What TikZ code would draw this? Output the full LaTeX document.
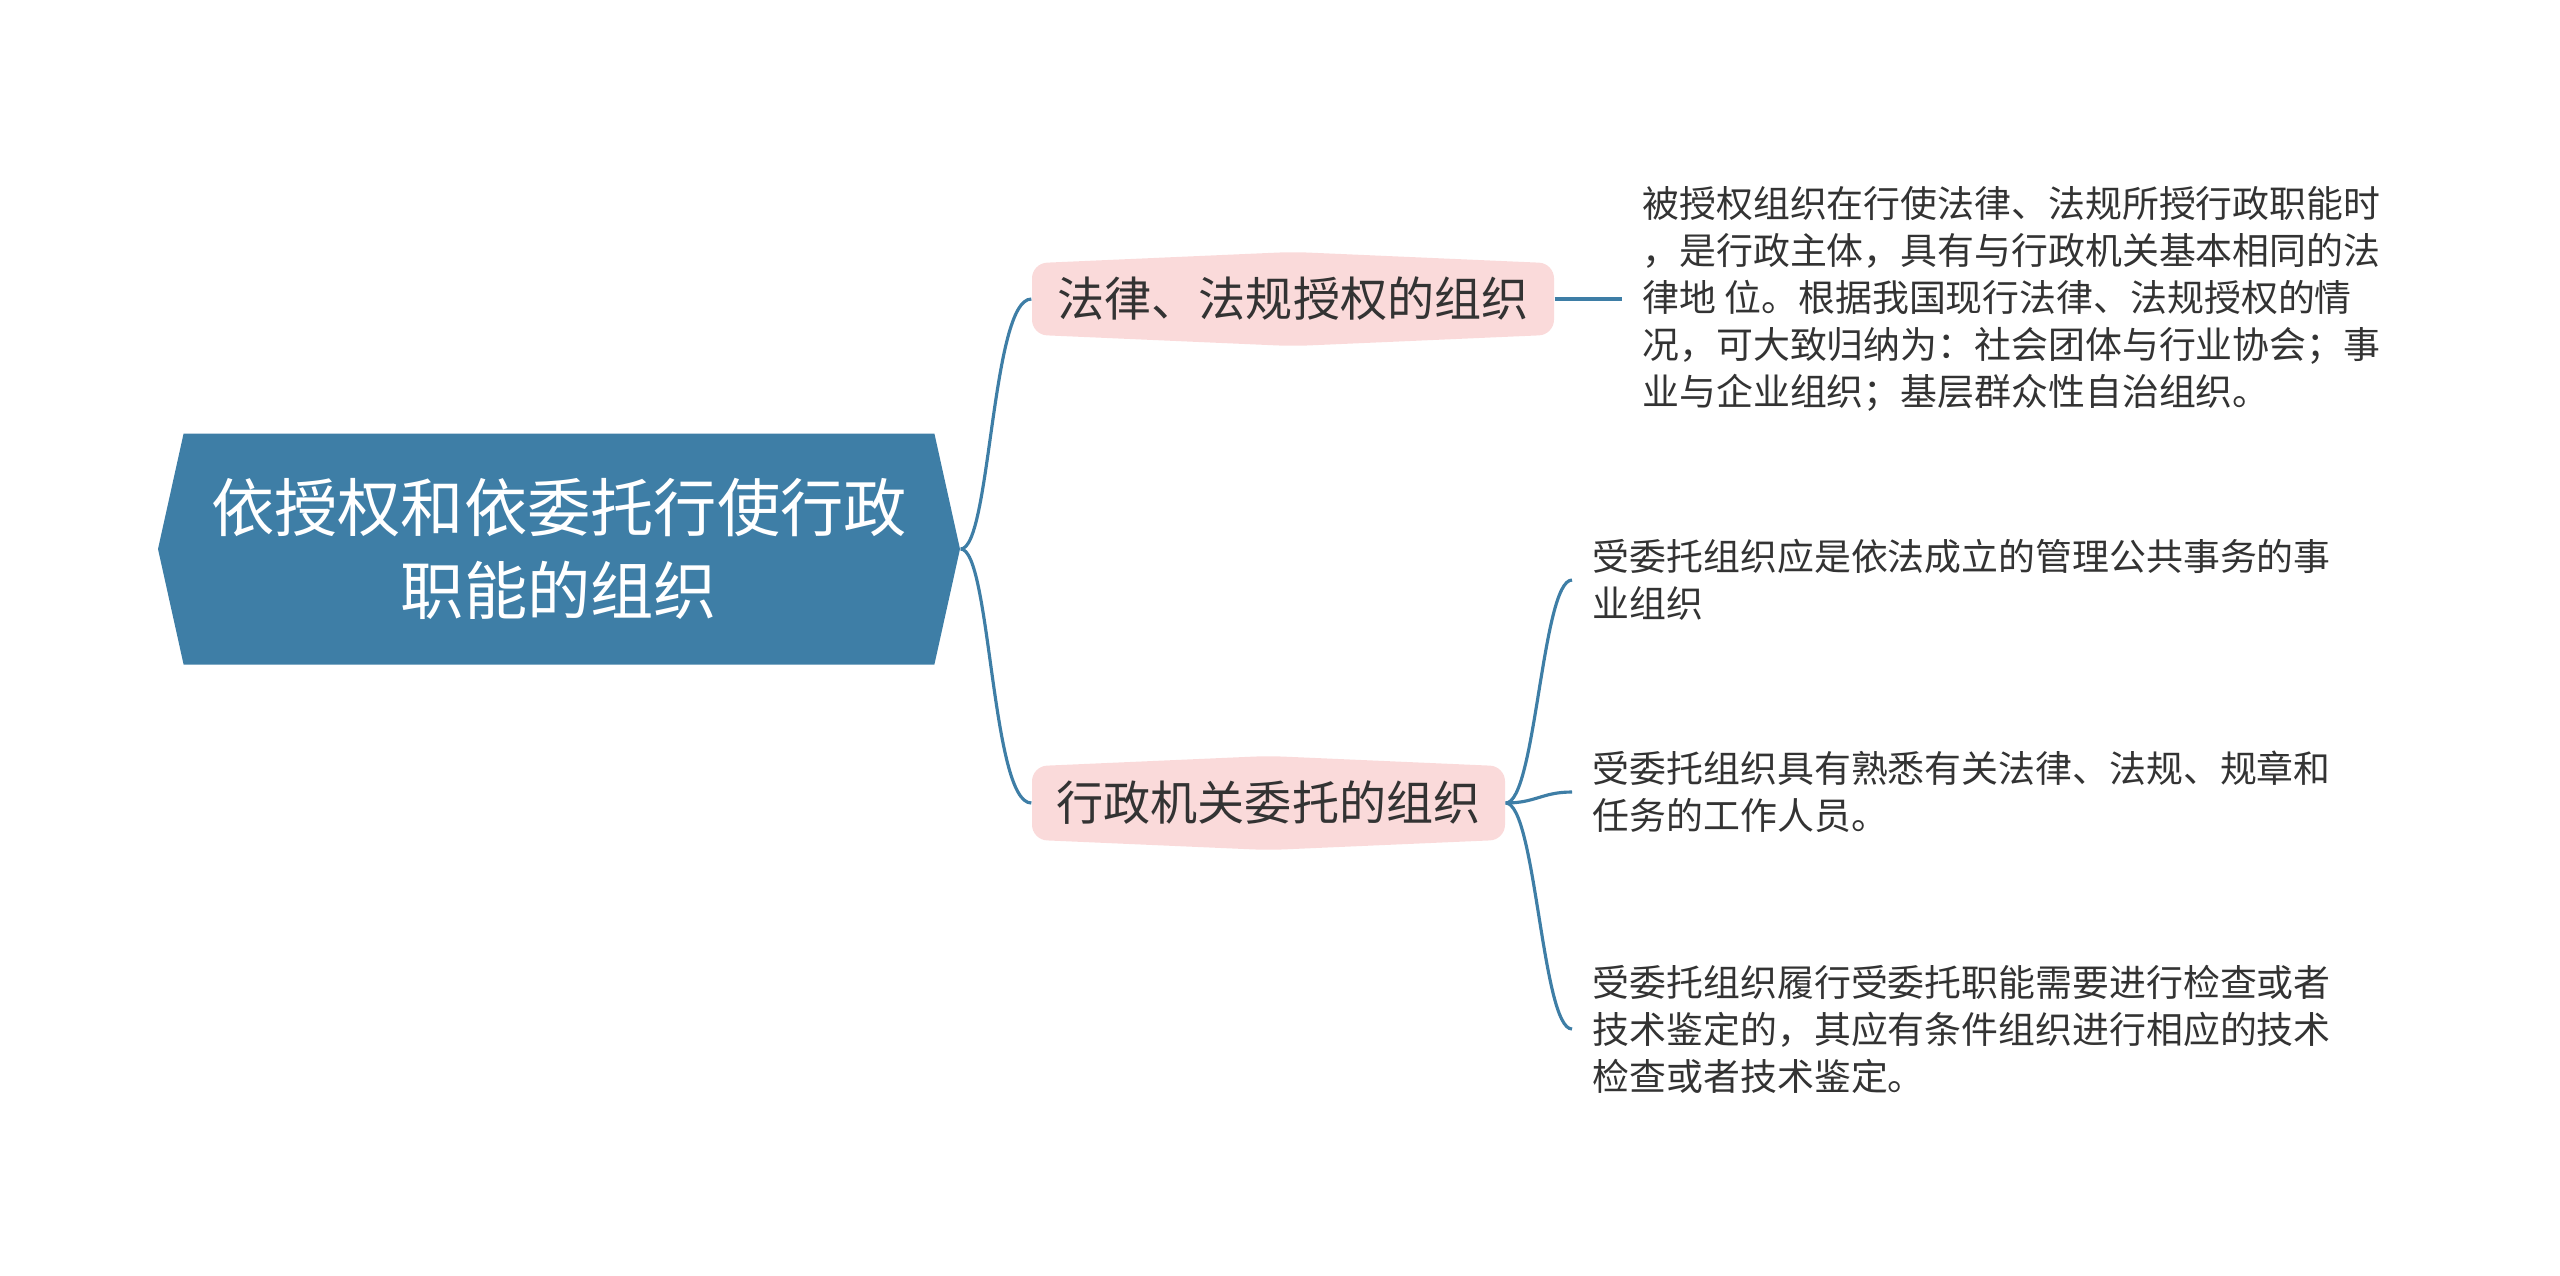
\documentclass[tikz,border=0pt]{standalone}
\usepackage{fontspec}
\setmainfont{Noto Sans CJK SC}
\usetikzlibrary{positioning,shapes.symbols}
\definecolor{rootblue}{HTML}{3E7EA6}
\definecolor{branchpink}{HTML}{FADADA}
\definecolor{leafgray}{HTML}{333333}

\begin{document}
\begin{tikzpicture}[
  rootbox/.style={signal, signal to=west and east, signal pointer angle=155,
    fill=rootblue, text=white, align=center, minimum width=8.02cm,
    minimum height=2.31cm, font=\fontsize{18}{23.6}\selectfont},
  branchbox/.style={signal, signal to=north and south, signal pointer angle=175,
    rounded corners=0.15cm, fill=branchpink, text=leafgray,
    minimum height=0.93cm, font=\fontsize{13.4}{16}\selectfont},
  leafbox/.style={anchor=west, text=leafgray, align=left, inner sep=0.2cm,
    font=\fontsize{10.5}{13.4}\selectfont},
  link/.style={draw=rootblue, line width=0.9pt}]
  \useasboundingbox (0,0) rectangle (25.6,-12.75);

  % Nodes
  \node[rootbox] (root) at (5.59,-5.49) {依授权和依委托行使行政\\职能的组织};
  \node[branchbox, minimum width=5.22cm] (law) at (12.93,-2.99) {法律、法规授权的组织};
  \node[branchbox, minimum width=4.73cm] (entrust) at (12.685,-8.03) {行政机关委托的组织};
  \node[leafbox, right=0.67cm of law] (lawnote) {被授权组织在行使法律、法规所授行政职能时\\，是行政主体，具有与行政机关基本相同的法\\律地 位。根据我国现行法律、法规授权的情\\况，可大致归纳为：社会团体与行业协会；事\\业与企业组织；基层群众性自治组织。};
  \node[leafbox] (public) at (15.72,-5.80) {受委托组织应是依法成立的管理公共事务的事\\业组织};
  \node[leafbox] (staff) at (15.72,-7.92) {受委托组织具有熟悉有关法律、法规、规章和\\任务的工作人员。};
  \node[leafbox] (check) at (15.72,-10.29) {受委托组织履行受委托职能需要进行检查或者\\技术鉴定的，其应有条件组织进行相应的技术\\检查或者技术鉴定。};

  % Edges
  \draw[link] (root.east) .. controls +(0.3,0) and +(-0.4,0) .. (law.west);
  \draw[link] (root.east) .. controls +(0.3,0) and +(-0.4,0) .. (entrust.west);
  \draw[link] (law.east) -- (lawnote.west);
  \draw[link] (entrust.east) .. controls +(0.3,0) and +(-0.3,0) .. (public.west);
  \draw[link] (entrust.east) .. controls +(0.3,0) and +(-0.3,0) .. (staff.west);
  \draw[link] (entrust.east) .. controls +(0.3,0) and +(-0.3,0) .. (check.west);
\end{tikzpicture}
\end{document}
